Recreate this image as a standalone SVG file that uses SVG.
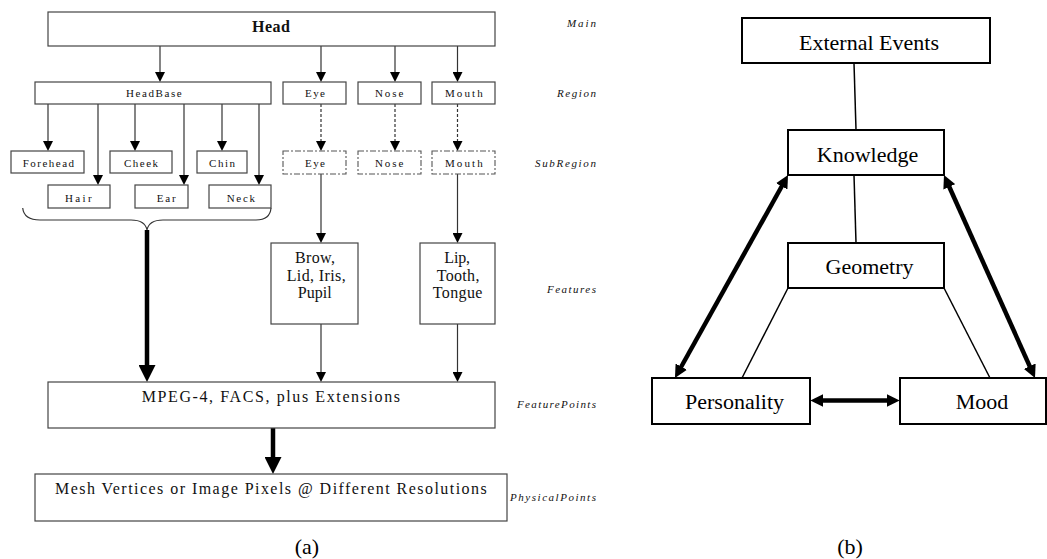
<svg xmlns="http://www.w3.org/2000/svg" width="1047" height="559" viewBox="0 0 1047 559" font-family="Liberation Serif, serif">
<defs>
<style>
.bx{fill:#fff;stroke:#444;stroke-width:1.2}
.dd{fill:#fff;stroke:#555;stroke-width:1.1;stroke-dasharray:6 2 2 2}
.bb{fill:#fff;stroke:#000;stroke-width:2}
.ln{stroke:#333;stroke-width:1.2;fill:none;marker-end:url(#ah)}
.dl{stroke:#333;stroke-width:1.2;fill:none;stroke-dasharray:3 2;marker-end:url(#ah)}
.tk{stroke:#000;stroke-width:4.5;fill:none;marker-end:url(#big)}
.bt{stroke:#000;stroke-width:1.5;fill:none}
.bd{stroke:#000;stroke-width:4.5;fill:none;marker-start:url(#bh);marker-end:url(#bh)}
.s{font-size:11px;fill:#111}
.m{font-size:16px;fill:#111}
.lv{font-size:11px;font-style:italic;fill:#111}
.b{font-size:22px;fill:#000;text-anchor:middle}
</style>
<marker id="ah" viewBox="0 0 10 10" refX="1" refY="5" markerWidth="10" markerHeight="10" markerUnits="userSpaceOnUse" orient="auto"><path d="M0,0 L10,5 L0,10 z" fill="#000"/></marker>
<marker id="big" viewBox="0 0 17 17" refX="1" refY="8.5" markerWidth="17" markerHeight="17" markerUnits="userSpaceOnUse" orient="auto"><path d="M0,0 L17,8.5 L0,17 z" fill="#000"/></marker>
<marker id="bh" viewBox="0 0 13 13" refX="1" refY="6.5" markerWidth="13" markerHeight="13" markerUnits="userSpaceOnUse" orient="auto-start-reverse"><path d="M0,0 L13,6.5 L0,13 z" fill="#000"/></marker>
</defs>
<rect width="1047" height="559" fill="#fff"/>

<g id="connectors">
<line class="ln" x1="160" y1="46" x2="160" y2="73"/>
<line class="ln" x1="321" y1="46" x2="321" y2="73"/>
<line class="ln" x1="395" y1="46" x2="395" y2="73"/>
<line class="ln" x1="457.5" y1="46" x2="457.5" y2="73"/>
<line class="ln" x1="48" y1="104" x2="48" y2="142"/>
<line class="ln" x1="135" y1="104" x2="135" y2="142"/>
<line class="ln" x1="222" y1="104" x2="222" y2="142"/>
<line class="ln" x1="98" y1="104" x2="98" y2="176"/>
<line class="ln" x1="184" y1="104" x2="184" y2="176"/>
<line class="ln" x1="259" y1="104" x2="259" y2="176"/>
<line class="dl" x1="321" y1="104" x2="321" y2="142"/>
<line class="dl" x1="395" y1="104" x2="395" y2="142"/>
<line class="dl" x1="457.5" y1="104" x2="457.5" y2="142"/>
<line class="ln" x1="321" y1="174" x2="321" y2="234"/>
<line class="ln" x1="457.5" y1="174" x2="457.5" y2="234"/>
<line class="ln" x1="321" y1="324" x2="321" y2="373"/>
<line class="ln" x1="457.5" y1="324" x2="457.5" y2="373"/>
<path d="M22.7,208 Q24,220 40,220 L131,220 Q145,220 147,230 Q149,220 163,220 L256,220 Q270,220 271,208" fill="none" stroke="#333" stroke-width="1.2"/>
<line class="tk" x1="147" y1="230" x2="147" y2="366"/>
<line class="tk" x1="273" y1="428" x2="273" y2="458"/>

<line class="bt" x1="854" y1="63" x2="856" y2="130"/>
<line class="bt" x1="854" y1="175" x2="856" y2="243"/>
<line class="bt" x1="788" y1="288" x2="742" y2="378"/>
<line class="bt" x1="944" y1="288" x2="990" y2="378"/>
<line class="bd" x1="782.2" y1="185.5" x2="680.8" y2="367.5"/>
<line class="bd" x1="948.9" y1="186" x2="1030.1" y2="367.1"/>
<line class="bd" x1="822.3" y1="400.5" x2="887.7" y2="400.5"/>
</g>

<g id="head"><rect class="bx" x="48" y="12" width="447" height="34"/><text x="252" y="32" textLength="38" font-size="16" font-weight="bold" fill="#111">Head</text></g>
<g id="headbase"><rect class="bx" x="35" y="82" width="236" height="22"/><text class="s" x="126" y="97.3" textLength="55.7">HeadBase</text></g>
<g id="eye"><rect class="bx" x="283" y="82" width="63" height="22"/><text class="s" x="305" y="97.3" textLength="20">Eye</text></g>
<g id="nose"><rect class="bx" x="358" y="82" width="63" height="22"/><text class="s" x="375" y="97.3" textLength="28.3">Nose</text></g>
<g id="mouth"><rect class="bx" x="432" y="82" width="63" height="22"/><text class="s" x="445" y="97.3" textLength="37.7">Mouth</text></g>
<g id="eye-sub"><rect class="dd" x="283" y="151" width="63" height="23"/><text class="s" x="305" y="167.3" textLength="20">Eye</text></g>
<g id="nose-sub"><rect class="dd" x="358" y="151" width="63" height="23"/><text class="s" x="375" y="167.3" textLength="28.3">Nose</text></g>
<g id="mouth-sub"><rect class="dd" x="432" y="151" width="63" height="23"/><text class="s" x="445" y="167.3" textLength="37.7">Mouth</text></g>
<g id="forehead"><rect class="bx" x="11" y="151" width="73" height="22"/><text class="s" x="22.7" y="167.3" textLength="51.3">Forehead</text></g>
<g id="cheek"><rect class="bx" x="110" y="151" width="62" height="22"/><text class="s" x="124" y="167.3" textLength="34">Cheek</text></g>
<g id="chin"><rect class="bx" x="197" y="151" width="50" height="22"/><text class="s" x="209" y="167.3" textLength="26">Chin</text></g>
<g id="hair"><rect class="bx" x="48" y="185" width="62" height="23"/><text class="s" x="65" y="201.7" textLength="26.7">Hair</text></g>
<g id="ear"><rect class="bx" x="135" y="185" width="53" height="23"/><text class="s" x="156.7" y="201.7" textLength="19">Ear</text></g>
<g id="neck"><rect class="bx" x="209" y="185" width="62" height="23"/><text class="s" x="226.7" y="201.7" textLength="28.3">Neck</text></g>
<g id="eye-features"><rect class="bx" x="271" y="243" width="87" height="81"/>
<text class="m" x="295" y="263" textLength="40">Brow,</text>
<text class="m" x="286.7" y="281" textLength="59">Lid, Iris,</text>
<text class="m" x="297.7" y="298" textLength="34">Pupil</text></g>
<g id="mouth-features"><rect class="bx" x="420" y="243" width="75" height="81"/>
<text class="m" x="444.3" y="263" textLength="25.7">Lip,</text>
<text class="m" x="436.7" y="281" textLength="42.7">Tooth,</text>
<text class="m" x="432.7" y="298" textLength="49.7">Tongue</text></g>
<g id="featurepoints"><rect class="bx" x="48" y="382" width="447" height="46"/><text class="m" x="141.7" y="402.3" textLength="258.3">MPEG-4, FACS, plus Extensions</text></g>
<g id="physicalpoints"><rect class="bx" x="35" y="474" width="472" height="47"/><text class="m" x="55" y="494" textLength="431.7">Mesh Vertices or Image Pixels @ Different Resolutions</text></g>

<g id="level-labels">
<text class="lv" x="567" y="26.7" textLength="29">Main</text>
<text class="lv" x="557" y="97.3" textLength="39">Region</text>
<text class="lv" x="535" y="166.7" textLength="61">SubRegion</text>
<text class="lv" x="547" y="292.5" textLength="49">Features</text>
<text class="lv" x="517" y="407.7" textLength="79">FeaturePoints</text>
<text class="lv" x="510" y="500.7" textLength="86">PhysicalPoints</text>
</g>

<g id="external-events"><rect class="bb" x="742" y="18" width="248" height="45"/><text class="b" x="869" y="50">External Events</text></g>
<g id="knowledge"><rect class="bb" x="788" y="130" width="156" height="45"/><text class="b" x="867.5" y="161.7">Knowledge</text></g>
<g id="geometry"><rect class="bb" x="788" y="243" width="156" height="45"/><text class="b" x="869.5" y="274">Geometry</text></g>
<g id="personality"><rect class="bb" x="652" y="378" width="158" height="46"/><text class="b" x="734.5" y="409.3">Personality</text></g>
<g id="mood"><rect class="bb" x="900" y="378" width="146" height="46"/><text class="b" x="982" y="409.3">Mood</text></g>

<text class="b" x="307" y="554">(a)</text>
<text class="b" x="850" y="554">(b)</text>
</svg>
